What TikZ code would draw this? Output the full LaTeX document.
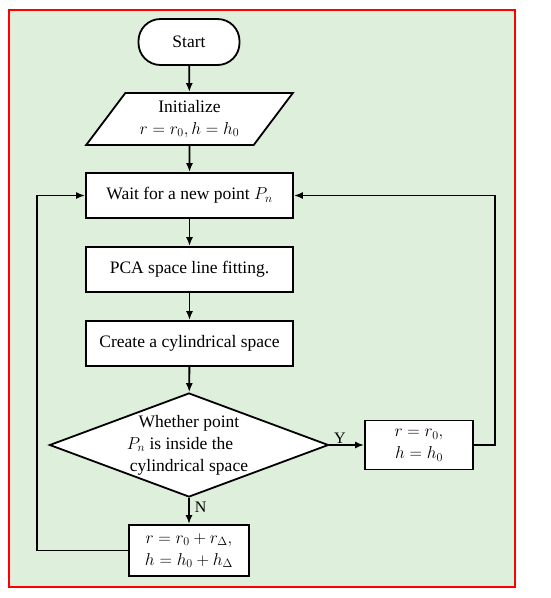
\documentclass[tikz,border=0pt]{standalone}
\usepackage{fontspec}
\setmainfont{Liberation Serif}
\usetikzlibrary{shapes.geometric,arrows.meta}

\definecolor{bggreen}{RGB}{222,239,219}

\tikzset{
  base/.style={draw=black, line width=1.8pt, fill=white, inner sep=0pt, align=center,
    font=\fontsize{17.5}{22}\selectfont},
  terminal/.style={base, rectangle, rounded corners=22pt, minimum width=101pt, minimum height=46pt},
  iobox/.style={base, trapezium, trapezium left angle=51, trapezium right angle=129,
    trapezium stretches=true, minimum width=207pt, minimum height=52pt},
  process/.style={base, rectangle, minimum width=207pt, minimum height=45pt},
  decision/.style={base, diamond, minimum width=279pt, minimum height=104pt},
  smallbox/.style={base, rectangle, minimum height=49pt},
  flow/.style={line width=1.8pt, -{Latex[length=9pt,width=7pt]}},
  branch/.style={font=\fontsize{16}{19}\selectfont, inner sep=1pt}
}

\begin{document}
\begin{tikzpicture}[x=1pt,y=1pt,yscale=-1,xscale=1]
\useasboundingbox (0,0) rectangle (550,598);

% frame
\fill [bggreen] (9,10) rectangle (515,587);
\draw [red, line width=1.3pt] (9,10) rectangle (515,587);

% nodes
\node [terminal] (start) at (189,42) {Start};
\node [iobox] (init) at (189.5,119) {Initialize\\ $r=r_0, h=h_0$};
\node [process] (wait) at (189.5,195.5) {Wait for a new point $P_n$};
\node [process] (pca) at (189.5,269.5) {PCA space line fitting.};
\node [process] (create) at (189.5,343.5) {Create a cylindrical space};
\node [decision] (check) at (189,445) {};
\node [align=center, inner sep=0pt, font=\fontsize{17.5}{22}\selectfont] (checktext) at (check.center)
  {Whether point\\ $P_n$ is inside the\rule{18pt}{0pt}\\ cylindrical space};
\node [smallbox, minimum width=108pt] (reset) at (419,445) {$r=r_0,$\\ $h=h_0$};
\node [smallbox, minimum width=120pt, minimum height=51pt] (grow) at (189,550.5)
  {$r=r_0+r_\Delta,$\\ $h=h_0+h_\Delta$};

% loop corners
\coordinate (leftx) at (37,0);
\coordinate (rightx) at (495,0);

% connectors
\draw [flow] (start) -- (init);
\draw [flow] (init) -- (wait);
\draw [flow] (wait) -- (pca);
\draw [flow] (pca) -- (create);
\draw [flow] (create) -- (check);
\draw [flow] (check.east) -- node [branch, above, pos=0.3] (ylabel) {Y} (reset.west);
\draw [flow] (check.south) -- node [branch, right, pos=0.35, xshift=4pt] (nlabel) {N} (grow.north);
\draw [flow] (grow.west) -- (grow.west -| leftx) |- (wait.west);
\draw [flow] (reset.east) -- (reset.east -| rightx) |- (wait.east);

\end{tikzpicture}
\end{document}
